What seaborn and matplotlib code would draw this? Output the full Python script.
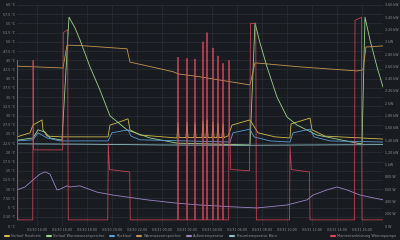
import matplotlib
matplotlib.use("Agg")
import matplotlib.pyplot as plt
import matplotlib.dates as mdates
from matplotlib.ticker import FixedLocator, FuncFormatter
from matplotlib.lines import Line2D
import seaborn as sns
import pandas as pd
import numpy as np

# ---------------- data (hours after 03/30 14:00) ----------------
START = "2024-03-30 14:00"
tick_hours = list(range(0, 28, 2))

ww_speicher_h = [-1.6, 2.08, 2.4, 3.44, 7.2, 7.44, 10.88, 11.28, 13.04, 17.04, 17.44, 21.04, 25.6, 26.08, 26.32, 27.68]
ww_speicher_t = [43.4, 42.9, 49.1, 49.0, 48.1, 44.5, 41.9, 41.3, 40.5, 38.3, 44.3, 43.2, 42.1, 42.4, 48.6, 48.9]

vl_ww_h = [-1.6, -0.32, 0.08, 0.64, 1.04, 2.0, 2.56, 3.04, 3.44, 4.24, 5.04, 5.84, 7.2, 9.04, 11.2, 17.04,
           17.44, 17.84, 18.4, 19.2, 20.0, 20.8, 22.4, 25.6, 26.0, 26.24, 26.64, 27.2, 27.68]
vl_ww_t = [23.3, 23.9, 26.1, 25.5, 23.9, 23.3, 56.7, 53.8, 50.5, 43.2, 36.9, 29.9, 26.1, 23.9, 22.5, 22.0,
           55.1, 49.7, 43.2, 35.0, 29.6, 27.4, 24.7, 22.5, 22.3, 56.7, 50.5, 43.2, 37.7]

vl_hk_h = [-1.6, -0.56, -0.32, 0.4, 0.48, 0.8, 2.0, 5.68, 5.84, 6.4, 7.28, 7.44, 8.24, 11.2,
           11.28, 11.36, 11.92, 12.0, 12.08, 12.56, 12.64, 12.72, 13.2, 13.28, 13.36, 13.52, 13.6, 13.68,
           14.0, 14.08, 14.16, 14.4, 14.48, 14.56, 14.8, 14.88, 14.96, 15.3, 15.6, 17.04, 17.68, 19.04,
           20.24, 20.32, 21.84, 22.0, 23.04, 27.68]
vl_hk_t = [24.2, 25.3, 27.4, 28.8, 26.1, 24.4, 24.2, 24.2, 27.4, 28.0, 29.1, 26.1, 24.7, 23.9,
           28.0, 24.0, 24.0, 28.2, 24.0, 24.0, 28.0, 24.0, 24.0, 28.5, 24.0, 24.0, 28.8, 24.0,
           24.0, 28.3, 24.0, 24.0, 28.0, 24.0, 24.0, 27.8, 24.0, 24.5, 27.4, 28.8, 25.3, 24.2,
           23.9, 27.7, 29.3, 26.1, 24.4, 23.6]

ruecklauf_h = [-1.6, -0.32, 0.08, 0.8, 1.84, 5.68, 6.0, 7.28, 7.52, 8.24, 15.44, 15.68, 17.04, 17.36,
               18.64, 20.24, 20.48, 21.84, 22.16, 23.44, 27.68]
ruecklauf_t = [23.1, 23.4, 25.3, 23.9, 23.1, 23.1, 25.3, 26.1, 24.4, 23.4, 22.8, 25.3, 26.3, 24.2,
               23.1, 22.8, 25.3, 26.3, 24.2, 23.1, 22.8]

aussen_h = [-1.6, -0.96, -0.32, 0.24, 0.64, 1.04, 1.6, 1.84, 2.4, 2.64, 3.44, 4.8, 6.08, 8.8, 11.2,
            13.04, 15.68, 17.6, 20.0, 21.6, 22.08, 23.2, 24.0, 24.8, 25.84, 27.68]
aussen_t = [9.8, 10.6, 12.5, 14.1, 14.7, 14.1, 9.8, 10.0, 10.9, 10.6, 10.9, 9.2, 8.4, 7.1, 6.2,
            5.7, 5.2, 4.9, 5.7, 7.1, 8.4, 9.8, 10.6, 9.8, 8.4, 7.1]

raum_h = [-1.6, 4.0, 10.0, 16.0, 22.0, 27.68]
raum_t = [22.3, 22.2, 22.0, 21.9, 22.0, 22.1]

power_h = [-1.6, -1.57, -1.54, -0.34, -0.31, -0.28, 2.06, 2.1, 2.45, 2.5,
           5.66, 5.7, 5.8, 7.42, 7.46,
           11.25, 11.28, 11.31, 11.97, 12.0, 12.03, 12.61, 12.64, 12.67, 13.25, 13.28, 13.31,
           13.57, 13.6, 13.63, 14.05, 14.08, 14.11, 14.45, 14.48, 14.51, 14.85, 14.88, 14.91,
           15.33, 15.36, 15.4, 15.5, 17.0, 17.08, 17.5, 17.55,
           20.2, 20.24, 20.35, 21.8, 21.84,
           25.4, 25.44, 25.95, 26.0, 27.68]
power_kw = [0.1, 2.7, 0.1, 0.1, 2.7, 1.24, 1.24, 3.15, 3.2, 0.1,
            0.1, 1.35, 0.92, 0.88, 0.1,
            0.1, 2.75, 0.1, 0.1, 2.73, 0.1, 0.1, 2.72, 0.1, 0.1, 3.0, 0.1,
            0.1, 3.15, 0.1, 0.1, 2.9, 0.1, 0.1, 2.77, 0.1, 0.1, 2.65, 0.1,
            0.1, 2.7, 1.65, 0.92, 0.9, 3.3, 3.3, 0.1,
            0.1, 1.3, 0.92, 0.88, 0.1,
            0.1, 3.35, 3.4, 0.1, 0.1]

temp_series = [
    ("Vorlauf Heizkreis", vl_hk_h, vl_hk_t, "#d2bd4c"),
    ("Vorlauf Warmwasserspeicher", vl_ww_h, vl_ww_t, "#9fd48e"),
    ("Rücklauf", ruecklauf_h, ruecklauf_t, "#5a9fd8"),
    ("Warmwasserspeicher", ww_speicher_h, ww_speicher_t, "#c49654"),
    ("Außentemperatur", aussen_h, aussen_t, "#9b86c9"),
    ("Raumtemperatur Büro", raum_h, raum_t, "#8fc2c6"),
]
power_label = "Momentanleistung Wärmepumpe"
power_color = "#e0485f"

# ---------------- style ----------------
BG = "#181b1f"
TXT = "#8e9296"
sns.set_theme(style="dark")
plt.rcParams["font.family"] = ["DejaVu Sans"]
plt.rcParams["axes.facecolor"] = BG
plt.rcParams["figure.facecolor"] = BG

t0 = pd.Timestamp(START)
def to_time(hours):
    return t0 + pd.to_timedelta(np.array(hours), unit="h")

fig = plt.figure(figsize=(4, 2.4), dpi=100)
ax = fig.add_axes([17 / 400, 1 - 226 / 240, 366 / 400, 221 / 240])
ax.set_facecolor(BG)
ax2 = ax.twinx()

for name, hh, vv, col in temp_series:
    df = pd.DataFrame({"t": to_time(hh), "v": vv})
    sns.lineplot(data=df, x="t", y="v", ax=ax, color=col, linewidth=0.6, estimator=None, sort=False, legend=False)

dfp = pd.DataFrame({"t": to_time(power_h), "v": power_kw})
sns.lineplot(data=dfp, x="t", y="v", ax=ax2, color=power_color, linewidth=0.6, estimator=None, sort=False,
             legend=False, alpha=0.85)

ax.set_xlim(to_time([-1.6])[0], to_time([27.68])[0])
ax.set_ylim(0, 60)
ax2.set_ylim(0, 3.6)

ax.yaxis.set_major_locator(FixedLocator(np.arange(0, 60.1, 2.5)))
def tfmt(v, p):
    if abs(v - round(v)) < 1e-6:
        return f"{int(round(v))} °C"
    if v < 10:
        return f"{v:.2f} °C"
    return f"{v:.1f} °C"
ax.yaxis.set_major_formatter(FuncFormatter(tfmt))

ax2.yaxis.set_major_locator(FixedLocator(np.arange(0, 3.61, 0.2)))
def pfmt(v, p):
    if v < 0.999:
        return f"{int(round(v * 1000))} W"
    if abs(v - round(v)) < 1e-6:
        return f"{int(round(v))} kW"
    return f"{v:.2f} kW"
ax2.yaxis.set_major_formatter(FuncFormatter(pfmt))

ax.xaxis.set_major_locator(FixedLocator(mdates.date2num(to_time(tick_hours))))
ax.xaxis.set_major_formatter(mdates.DateFormatter("%m/%d %H:%M"))

for a in (ax, ax2):
    a.set_xlabel("")
    a.set_ylabel("")
    for s in a.spines.values():
        s.set_visible(False)
    a.tick_params(length=0, labelsize=2.3, colors=TXT, pad=1.2)
ax.tick_params(axis="x", pad=1.6)

ax.grid(True, color="#2b2e35", linewidth=0.5)
ax2.grid(False)
ax.set_axisbelow(True)

handles = [Line2D([0], [0], color=c, linewidth=1.5) for _, _, _, c in temp_series]
labels = [n for n, _, _, _ in temp_series]
leg1 = fig.legend(handles, labels, loc="lower left", bbox_to_anchor=(0.005, -0.005), ncol=6, frameon=False,
                  fontsize=2.5, labelcolor=TXT, handlelength=1.2, handletextpad=0.6, columnspacing=1.6)
leg2 = fig.legend([Line2D([0], [0], color=power_color, linewidth=1.5)], [power_label], loc="lower right",
                  bbox_to_anchor=(0.998, -0.005), frameon=False, fontsize=2.5, labelcolor=TXT,
                  handlelength=1.2, handletextpad=0.6)

fig.savefig("out.png", dpi=100, facecolor=BG)
